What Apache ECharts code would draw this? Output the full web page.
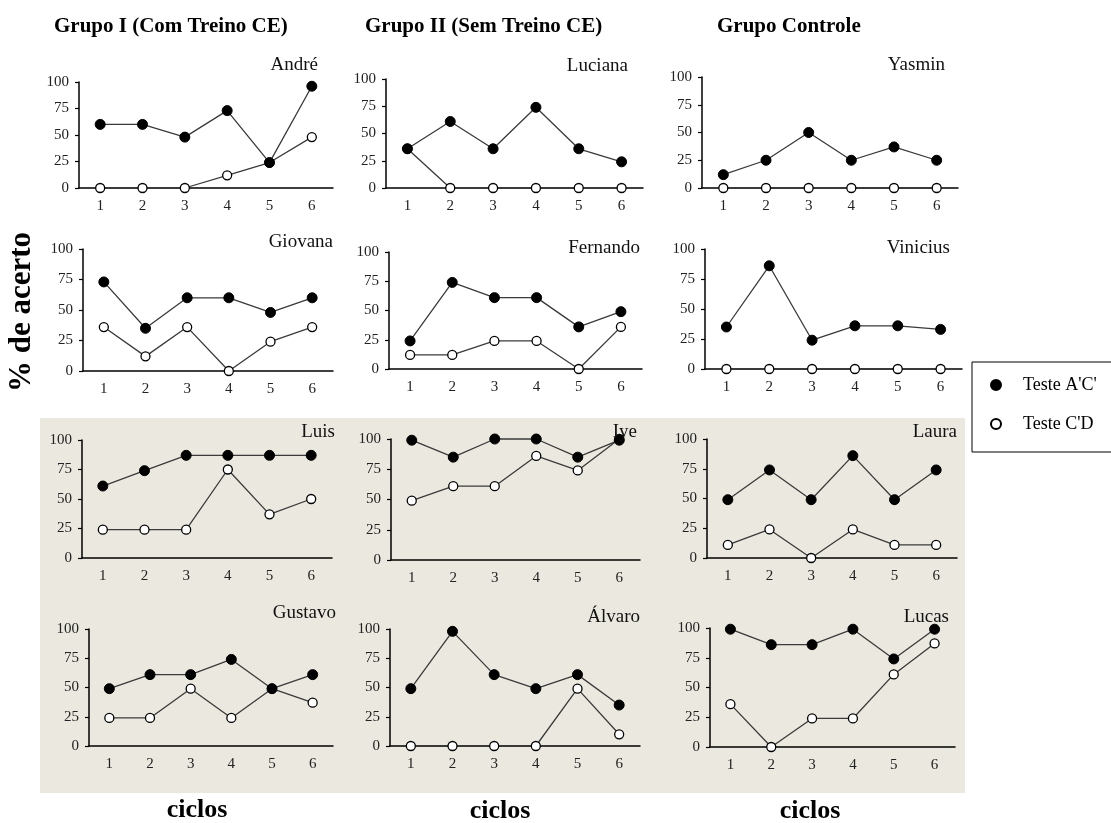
<!DOCTYPE html>
<html><head><meta charset="utf-8">
<script src="https://cdn.jsdelivr.net/npm/echarts@6/dist/echarts.min.js"></script>
<style>html,body{margin:0;padding:0;background:#fff}#c{width:1111px;height:823px}</style>
</head><body><div id="c"></div>
<script>
// ---- data ----
const cycles = ['1','2','3','4','5','6'];
const groupTitles = ['Grupo I (Com Treino CE)', 'Grupo II (Sem Treino CE)', 'Grupo Controle'];
const participants = ['André','Luciana','Yasmin','Giovana','Fernando','Vinicius','Luis','Iye','Laura','Gustavo','Álvaro','Lucas'];
const seriesNames = ["Teste A'C'", "Teste C'D"];
const xAxisTitle = 'ciclos';
const yAxisTitle = '% de acerto';

const andreAC    = [60, 60, 48, 73, 24, 96];
const andreCD    = [0, 0, 0, 12, 24, 48];
const lucianaAC  = [36, 61, 36, 74, 36, 24];
const lucianaCD  = [36, 0, 0, 0, 0, 0];
const yasminAC   = [12, 25, 50, 25, 37, 25];
const yasminCD   = [0, 0, 0, 0, 0, 0];
const giovanaAC  = [73, 35, 60, 60, 48, 60];
const giovanaCD  = [36, 12, 36, 0, 24, 36];
const fernandoAC = [24, 74, 61, 61, 36, 49];
const fernandoCD = [12, 12, 24, 24, 0, 36];
const viniciusAC = [35, 86, 24, 36, 36, 33];
const viniciusCD = [0, 0, 0, 0, 0, 0];
const luisAC     = [61, 74, 87, 87, 87, 87];
const luisCD     = [24, 24, 24, 75, 37, 50];
const iyeAC      = [99, 85, 100, 100, 85, 99];
const iyeCD      = [49, 61, 61, 86, 74, 100];
const lauraAC    = [49, 74, 49, 86, 49, 74];
const lauraCD    = [11, 24, 0, 24, 11, 11];
const gustavoAC  = [49, 61, 61, 74, 49, 61];
const gustavoCD  = [24, 24, 49, 24, 49, 37];
const alvaroAC   = [49, 98, 61, 49, 61, 35];
const alvaroCD   = [0, 0, 0, 0, 49, 10];
const lucasAC    = [99, 86, 86, 99, 74, 99];
const lucasCD    = [36, 0, 24, 24, 61, 87];

const acList = [andreAC, lucianaAC, yasminAC, giovanaAC, fernandoAC, viniciusAC, luisAC, iyeAC, lauraAC, gustavoAC, alvaroAC, lucasAC];
const cdList = [andreCD, lucianaCD, yasminCD, giovanaCD, fernandoCD, viniciusCD, luisCD, iyeCD, lauraCD, gustavoCD, alvaroCD, lucasCD];

// ---- layout (pixel boxes of each panel: left, top, right, bottom) ----
const boxes = [
  [79, 82, 333, 188], [386, 79, 643, 188], [702, 77, 958, 188],
  [83, 249, 333, 371], [389, 252, 642, 369], [705, 249, 962, 369],
  [82, 440, 332, 558], [391, 439, 640, 560], [707, 439, 957, 558],
  [89, 629, 333, 746], [390, 629, 640, 746], [710, 628, 955, 747]
];
const nameAnchors = [
  [318, 65], [628, 66], [945, 65],
  [333, 242], [640, 248], [950, 248],
  [335, 432], [637, 432], [957, 432],
  [336, 613], [640, 617], [949, 617]
];

const SERIF = '"Liberation Serif", "DejaVu Serif", serif';
const grid = [], xAxis = [], yAxis = [], series = [];
boxes.forEach((b, i) => {
  grid.push({ left: b[0], top: b[1], width: b[2] - b[0], height: b[3] - b[1] });
  xAxis.push({
    type: 'category', gridIndex: i, data: cycles, boundaryGap: true,
    axisLine: { lineStyle: { color: '#000', width: 1.5 } },
    axisTick: { show: false },
    axisLabel: { margin: 11, fontFamily: SERIF, fontSize: 15, color: '#222' },
    splitLine: { show: false }
  });
  yAxis.push({
    type: 'value', gridIndex: i, min: 0, max: 100, interval: 25,
    axisLine: { show: true, lineStyle: { color: '#000', width: 1.5 } },
    axisTick: { show: true, length: 4, lineStyle: { color: '#000', width: 1.2 } },
    axisLabel: { margin: 10, fontFamily: SERIF, fontSize: 15, color: '#222' },
    splitLine: { show: false }
  });
  series.push({
    name: seriesNames[1], type: 'line', xAxisIndex: i, yAxisIndex: i,
    data: cdList[i], symbol: 'circle', symbolSize: 9, clip: false, z: 3,
    lineStyle: { color: '#3a3a3a', width: 1.3 },
    itemStyle: { color: '#fff', borderColor: '#000', borderWidth: 1.3 },
    emphasis: { disabled: true }, animation: false
  });
  series.push({
    name: seriesNames[0], type: 'line', xAxisIndex: i, yAxisIndex: i,
    data: acList[i], symbol: 'circle', symbolSize: 10, clip: false, z: 4,
    lineStyle: { color: '#3a3a3a', width: 1.3 },
    itemStyle: { color: '#000', borderColor: '#000', borderWidth: 1 },
    emphasis: { disabled: true }, animation: false
  });
});

const graphic = [
  { type: 'rect', z: -10, silent: true, shape: { x: 40, y: 418, width: 925, height: 375 }, style: { fill: '#ebe8df' } },
  { type: 'rect', z: 1, silent: true, shape: { x: 972, y: 362, width: 150, height: 90 }, style: { fill: '#fff', stroke: '#000', lineWidth: 1 } },
  { type: 'text', left: 54, top: 16, style: { text: groupTitles[0], font: 'bold 21px ' + SERIF, fill: '#000' } },
  { type: 'text', left: 365, top: 16, style: { text: groupTitles[1], font: 'bold 21px ' + SERIF, fill: '#000' } },
  { type: 'text', left: 717, top: 16, style: { text: groupTitles[2], font: 'bold 21px ' + SERIF, fill: '#000' } },
  { type: 'text', x: 22, y: 312, rotation: Math.PI / 2, style: { text: yAxisTitle, font: 'bold 31px ' + SERIF, fill: '#000', textAlign: 'center', textVerticalAlign: 'middle' } },
  { type: 'text', x: 197, y: 810, style: { text: xAxisTitle, font: 'bold 26px ' + SERIF, fill: '#000', textAlign: 'center', textVerticalAlign: 'middle' } },
  { type: 'text', x: 500, y: 811, style: { text: xAxisTitle, font: 'bold 26px ' + SERIF, fill: '#000', textAlign: 'center', textVerticalAlign: 'middle' } },
  { type: 'text', x: 810, y: 811, style: { text: xAxisTitle, font: 'bold 26px ' + SERIF, fill: '#000', textAlign: 'center', textVerticalAlign: 'middle' } }
];
participants.forEach((n, i) => {
  graphic.push({ type: 'text', x: nameAnchors[i][0], y: nameAnchors[i][1], z: 5,
    style: { text: n, font: '19px ' + SERIF, fill: '#111', textAlign: 'right', textVerticalAlign: 'middle' } });
});

const chart = echarts.init(document.getElementById('c'), null, { renderer: 'canvas' });
chart.setOption({
  backgroundColor: '#fff',
  animation: false,
  grid, xAxis, yAxis, series, graphic,
  legend: {
    orient: 'vertical', left: 985, top: 371, z: 10,
    itemWidth: 40, itemHeight: 10, itemGap: 21,
    selectedMode: false,
    textStyle: { fontFamily: SERIF, fontSize: 18, color: '#000', padding: [0, 0, 0, 2] },
    data: [{ name: seriesNames[0], icon: 'circle' }, { name: seriesNames[1], icon: 'circle' }]
  }
});
</script></body></html>
